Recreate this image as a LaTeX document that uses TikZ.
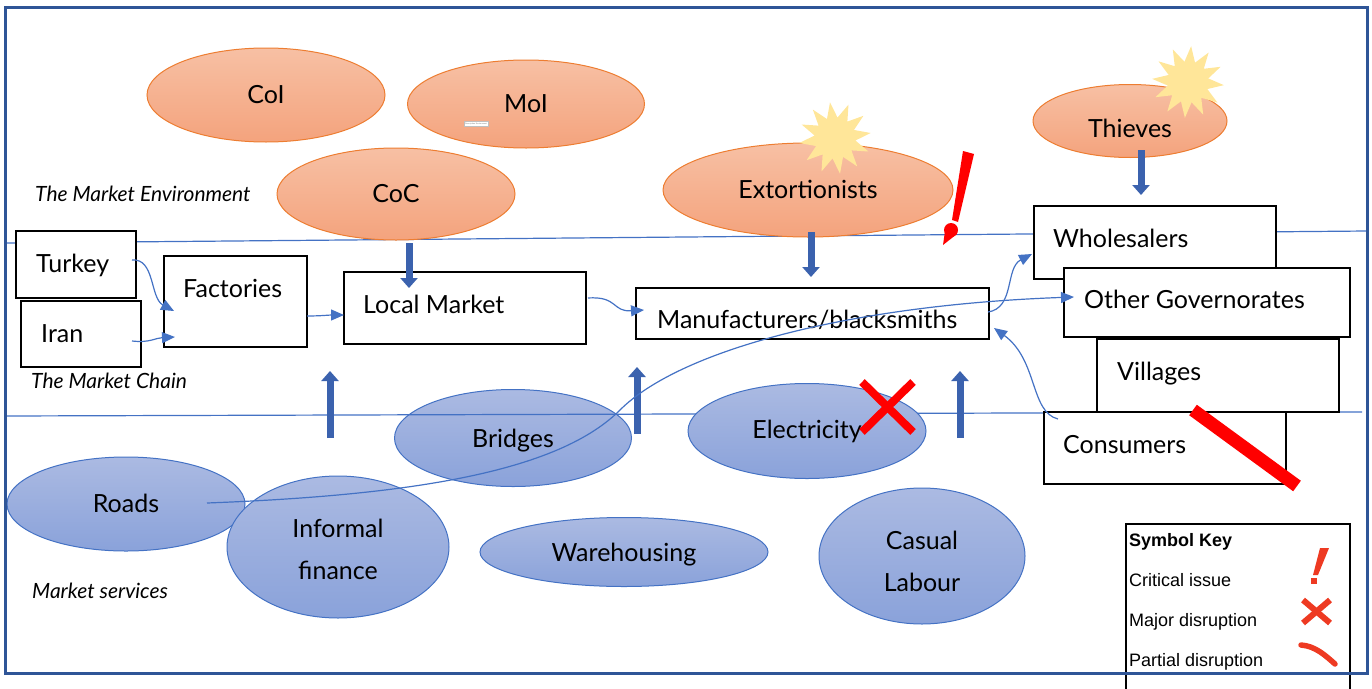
\documentclass[tikz,border=0pt]{standalone}
\usepackage{fontspec}
\setmainfont{Lato}
\newfontfamily\keyfont{Liberation Sans}
\usetikzlibrary{shapes.geometric,arrows.meta,calc}
\definecolor{frameblue}{HTML}{2F5597}
\definecolor{lineblue}{HTML}{4472C4}
\definecolor{orBorder}{HTML}{ED7D31}
\definecolor{orTop}{HTML}{F7C0A4}
\definecolor{orBot}{HTML}{F4A37D}
\definecolor{blTop}{HTML}{ABBAE2}
\definecolor{blBot}{HTML}{8AA2DA}
\definecolor{burst}{HTML}{FFE699}
\definecolor{blockfill}{HTML}{3B62AE}
\definecolor{keyred}{HTML}{EE3A22}
\tikzset{
  orell/.style={ellipse, draw=orBorder, line width=1pt, top color=orTop, bottom color=orBot, inner sep=0pt},
  blell/.style={ellipse, draw=lineblue, line width=1pt, top color=blTop, bottom color=blBot, inner sep=0pt},
  box/.style={draw=black, line width=2pt, fill=white, inner sep=0pt, anchor=north west},
  lbl/.style={font=\fontsize{25}{28}\selectfont, inner sep=0pt, anchor=base},
  lblw/.style={lbl, anchor=base west},
  sect/.style={font=\itshape\fontsize{21}{24}\selectfont, inner sep=0pt, anchor=base west},
  keytxt/.style={font=\keyfont\fontsize{18}{22}\selectfont, inner sep=0pt, anchor=base west},
  flow/.style={draw=lineblue, line width=1.2pt, -{Triangle[length=13pt,width=11pt]}},
  blockarr/.style={draw=blockfill, line width=7pt, -{Triangle[length=10pt,width=17pt]}},
  burststar/.style={star, star points=12, star point ratio=1.75, fill=burst, draw=none, inner sep=0pt, minimum size=72pt},
  redmark/.style={draw=red, line width=8pt},
}
\begin{document}
\begin{tikzpicture}[x=1pt,y=-1pt]
\useasboundingbox (0,0) rectangle (1372,688);
% Bridges below the service line
\node[blell, minimum width=237pt, minimum height=97pt] (bri) at (513,438) {};
% section lines
\coordinate (l1a) at (5,243); \coordinate (l1b) at (1367,231);
\coordinate (l2a) at (5,416); \coordinate (l2b) at (1362,412);
\draw[lineblue, line width=1.2pt] (l1a) -- (l1b);
\draw[lineblue, line width=1.2pt] (l2a) -- (l2b);
% environment ellipses
\node[orell, minimum width=238pt, minimum height=94pt] (coi) at (266,95) {};
\node[orell, minimum width=237pt, minimum height=88pt] (moi) at (526,104) {};
\node[draw=gray!50, fill=white, line width=0.3pt, minimum width=24pt, minimum height=5pt, inner sep=0pt, font=\fontsize{2}{2}\selectfont] (tiny) at (476,124) {\textcolor{gray}{Description Environment}};
\node[orell, minimum width=238pt, minimum height=92pt] (coc) at (396,194) {};
\node[orell, minimum width=290pt, minimum height=94pt] (ext) at (808,190) {};
\node[orell, minimum width=194pt, minimum height=73pt] (thv) at (1130,121) {};
\node[lbl] (coiT) at (266,103) {CoI};
\node[lbl] (moiT) at (526,112) {MoI};
\node[lbl] (cocT) at (396,202) {CoC};
\node[lbl] (extT) at (808,198) {Extortionists};
\node[lbl] (thvT) at (1130,137) {Thieves};
% chain boxes
\node[box, minimum width=120pt, minimum height=67pt] (tur) at (15,230) {};
\node[box, minimum width=120pt, minimum height=66pt] (ira) at (20,300) {};
\node[box, minimum width=143pt, minimum height=91pt] (fac) at (163,255) {};
\node[box, minimum width=242pt, minimum height=72pt] (lm) at (343,271) {};
\node[box, minimum width=353pt, minimum height=51pt] (man) at (635,287) {};
\node[box, minimum width=242pt, minimum height=73pt] (who) at (1033,205) {};
\node[box, minimum width=286pt, minimum height=69pt] (oth) at (1063,267) {};
\node[box, minimum width=242pt, minimum height=73pt] (vil) at (1096,338) {};
\node[box, minimum width=242pt, minimum height=72pt] (con) at (1043,411) {};
\node[lblw] (turT) at (36,272) {Turkey};
\node[lblw] (iraT) at (41,342) {Iran};
\node[lblw] (facT) at (183,297) {Factories};
\node[lblw] (lmT) at (363,313) {Local Market};
\node[lblw] (manT) at (657,328) {Manufacturers/blacksmiths};
\node[lblw] (whoT) at (1053,247) {Wholesalers};
\node[lblw] (othT) at (1084,308) {Other Governorates};
\node[lblw] (vilT) at (1117,380) {Villages};
\node[lblw] (conT) at (1063,453) {Consumers};
% service ellipses
\node[blell, minimum width=238pt, minimum height=95pt] (ele) at (807,431) {};
\node[blell, minimum width=238pt, minimum height=94pt] (roa) at (126,504) {};
\node[blell, minimum width=222pt, minimum height=142pt] (inf) at (338,547) {};
\node[blell, minimum width=288pt, minimum height=69pt] (war) at (624,552) {};
\node[blell, minimum width=206pt, minimum height=136pt] (cas) at (922,556) {};
\node[lbl] (briT) at (513,447) {Bridges};
\node[lbl] (eleT) at (807,438) {Electricity};
\node[lbl] (roaT) at (126,512) {Roads};
\node[lbl] (infT1) at (338,537) {Informal};
\node[lbl] (infT2) at (338,579) {finance};
\node[lbl] (warT) at (624,561) {Warehousing};
\node[lbl] (casT1) at (922,549) {Casual};
\node[lbl] (casT2) at (922,591) {Labour};
% section labels
\node[sect] (envL) at (35,201) {The Market Environment};
\node[sect] (chainL) at (31,388) {The Market Chain};
\node[sect] (servL) at (32,598) {Market services};
% block arrows
\coordinate (d1s) at (409,243); \coordinate (d1e) at (409,288);
\coordinate (d2s) at (811,232); \coordinate (d2e) at (811,277);
\coordinate (d3s) at (1141,150); \coordinate (d3e) at (1141,195);
\coordinate (u1s) at (330,438); \coordinate (u1e) at (330,371);
\coordinate (u2s) at (637,434); \coordinate (u2e) at (637,367);
\coordinate (u3s) at (960,438); \coordinate (u3e) at (960,371);
\draw[blockarr] (d1s) -- (d1e);
\draw[blockarr] (d2s) -- (d2e);
\draw[blockarr] (d3s) -- (d3e);
\draw[blockarr] (u1s) -- (u1e);
\draw[blockarr] (u2s) -- (u2e);
\draw[blockarr] (u3s) -- (u3e);
% flow arrows
\coordinate (turO) at (132,260); \coordinate (facI1) at (174,311);
\coordinate (iraO) at (132,341); \coordinate (facI2) at (175,337);
\coordinate (facO) at (307,316); \coordinate (lmI) at (344,315);
\coordinate (lmO) at (588,298); \coordinate (manI) at (644,310);
\coordinate (manO) at (988,312); \coordinate (whoI) at (1032,254);
\coordinate (roaO) at (207,503); \coordinate (mid) at (620,410); \coordinate (othI) at (1074,297);
\coordinate (conO) at (1058,419); \coordinate (manI2) at (994,328);
\draw[flow] (turO) .. controls (155,258) and (150,298) .. (facI1);
\draw[flow] (iraO) .. controls (150,343) and (155,338) .. (facI2);
\draw[flow] (facO) .. controls (320,316) and (330,315) .. (lmI);
\draw[flow] (lmO) .. controls (618,296) and (612,312) .. (manI);
\draw[flow] (manO) .. controls (1015,308) and (1005,268) .. (whoI);
\draw[flow] (roaO) .. controls (420,495) and (560,470) .. (mid) .. controls (680,350) and (850,305) .. (othI);
\draw[flow] (conO) .. controls (1030,412) and (1038,360) .. (manI2);
% bursts
\node[burststar, rotate=8] (bu1) at (835,138) {};
\node[burststar, rotate=-5] (bu2) at (1188,82) {};
% critical issue mark
\fill[red] (963,151) -- (974,154) -- (958,222) -- (952,220) -- cycle;
\fill[red] (951,230) circle (7pt);
\fill[red] (945,231) -- (957,234) -- (943,245) -- cycle;
% major disruption on electricity
\draw[redmark] (862,382) -- (913,432);
\draw[redmark] (913,382) -- (862,432);
% partial disruption on consumers
\draw[red, line width=13pt] (1193,410) -- (1297,486);
% symbol key
\draw[black, line width=1.5pt] (1126,700) -- (1126,524) -- (1350,524) -- (1350,700);
\node[keytxt, font=\keyfont\bfseries\fontsize{18}{22}\selectfont] (kT) at (1129,546) {Symbol Key};
\node[keytxt] (k1) at (1129,586) {Critical issue};
\node[keytxt] (k2) at (1129,626) {Major disruption};
\node[keytxt] (k3) at (1129,666) {Partial disruption};
\fill[keyred] (1320,548) -- (1329,548) -- (1318,575) -- (1313,575) -- cycle;
\fill[keyred] (1311,578) rectangle (1317,584);
\draw[keyred, line width=6pt] (1303,600) -- (1330,623);
\draw[keyred, line width=6pt] (1330,600) -- (1303,623);
\draw[keyred, line width=5.5pt, line cap=round] (1301,645) .. controls (1315,646) and (1325,655) .. (1335,664);
% frame
\draw[frameblue, line width=3pt] (5,7) rectangle (1367,673);
\end{tikzpicture}
\end{document}
